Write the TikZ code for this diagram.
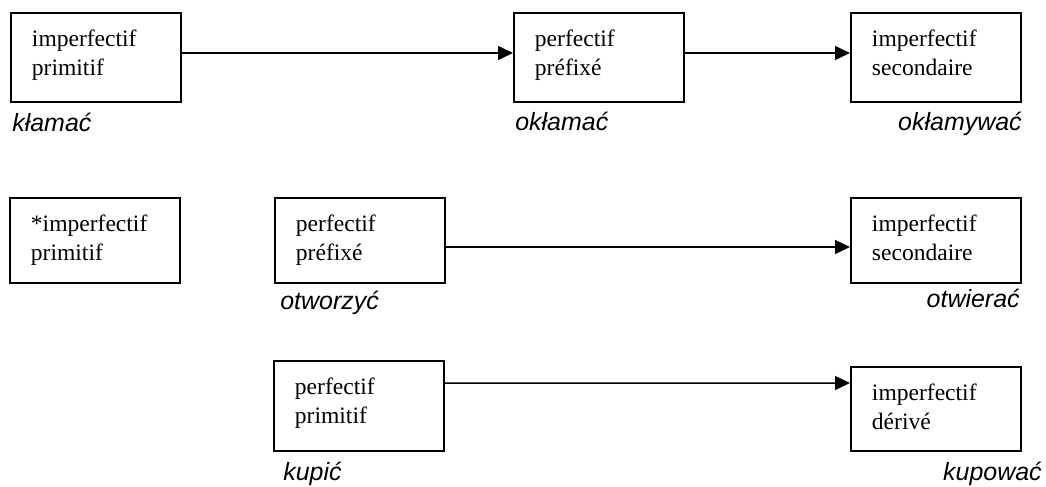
\documentclass[tikz,border=0pt]{standalone}
\usepackage{fontspec}
\setmainfont{Liberation Serif}
\setsansfont{Liberation Sans}
\usetikzlibrary{arrows.meta}

\tikzstyle{cadre}= [rectangle,draw,black,line width=1.1pt,anchor=north west,inner xsep=0.42cm,inner ysep=0.34cm,font=\fontsize{13.4}{16.5}\selectfont]
\tikzstyle{mot}= [inner sep=0pt,font=\fontsize{14.2}{17}\selectfont\sffamily\itshape]
\tikzstyle{fleche}= [-{Triangle[length=0.3cm,width=0.28cm]},line width=0.85pt]

\newcommand{\boite}[2]{\parbox[t][#1][t]{2.56cm}{#2}}

\begin{document}
\begin{tikzpicture}
		\useasboundingbox (0,0) rectangle (20.92,-9.72);

		% premiere ligne
		\node (a) at (0.2,-0.24) [cadre] {\boite{1.10cm}{imperfectif\\primitif}};
		\node (b) at (10.26,-0.24) [cadre] {\boite{1.10cm}{perfectif\\préfixé}};
		\node (c) at (17.0,-0.24) [cadre] {\boite{1.10cm}{imperfectif\\secondaire}};
		\node (ka) at (0.24,-2.62) [mot,anchor=base west] {kłamać};
		\node (ok) at (10.30,-2.60) [mot,anchor=base west] {okłamać};
		\node (oky) at (20.44,-2.60) [mot,anchor=base east] {okłamywać};

		% deuxieme ligne
		\node (d) at (0.18,-3.94) [cadre] {\boite{1.02cm}{*imperfectif\\primitif}};
		\node (e) at (5.48,-3.94) [cadre] {\boite{1.02cm}{perfectif\\préfixé}};
		\node (f) at (17.0,-3.94) [cadre] {\boite{1.02cm}{imperfectif\\secondaire}};
		\node (otz) at (5.60,-6.18) [mot,anchor=base west] {otworzyć};
		\node (otw) at (20.40,-6.14) [mot,anchor=base east] {otwierać};

		% troisieme ligne
		\node (g) at (5.46,-7.2) [cadre] {\boite{1.12cm}{perfectif\\primitif}};
		\node (h) at (17.0,-7.32) [cadre] {\boite{1.00cm}{imperfectif\\dérivé}};
		\node (ku) at (5.66,-9.60) [mot,anchor=base west] {kupić};
		\node (kuw) at (20.84,-9.60) [mot,anchor=base east] {kupować};

		\draw[fleche] ([yshift=-0.82cm]a.north east) -- ([yshift=-0.82cm]b.north west);
		\draw[fleche] ([yshift=-0.82cm]b.north east) -- ([yshift=-0.82cm]c.north west);
		\draw[fleche] ([yshift=-1.0cm]e.north east) -- ([yshift=-1.0cm]f.north west);
		\draw[fleche] ([yshift=-0.46cm]g.north east) -- ([yshift=-0.34cm]h.north west);

	\end{tikzpicture}
\end{document}
